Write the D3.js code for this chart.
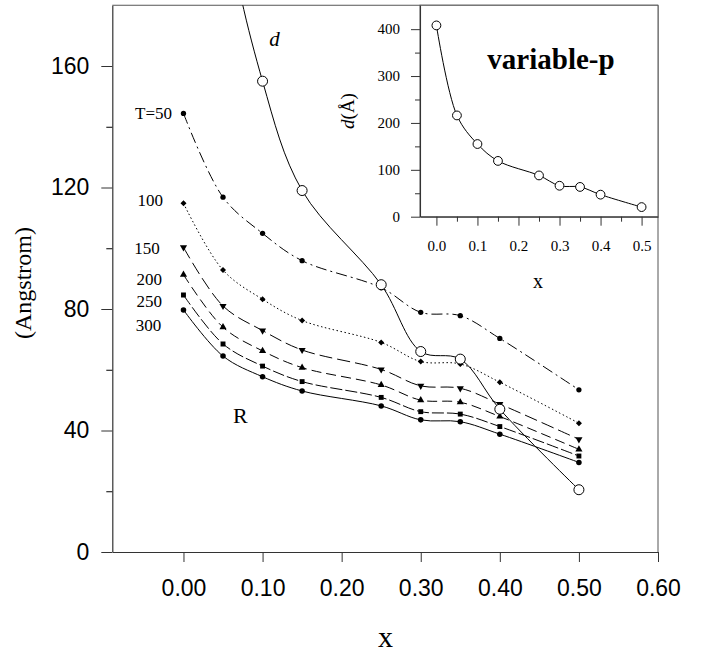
<!DOCTYPE html>
<html>
<head>
<meta charset="utf-8">
<script src="https://cdn.jsdelivr.net/npm/d3@7"></script>
<style>
  body { margin: 0; background: #fff; }
  svg { display: block; }
</style>
</head>
<body>
<div id="chart"></div>
<script>
// composition values, shared by every series
const xValues = [0, 0.05, 0.10, 0.15, 0.25, 0.30, 0.35, 0.40, 0.50];

// d (open circles) - same values in the main plot and in the inset
const dValues = [408, 216, 155, 119, 88, 66, 63.5, 47, 20.5];

// R at each temperature
const rT50  = [144.4, 116.8, 104.9, 95.9, 87.0, 78.9, 77.8, 70.3, 53.4];
const rT100 = [114.8, 92.8, 83.2, 76.2, 69.0, 62.7, 61.9, 55.9, 42.4];
const rT150 = [100.3, 81.0, 72.9, 66.5, 60.1, 54.7, 53.9, 48.7, 37.1];
const rT200 = [91.3, 74.0, 66.2, 60.7, 55.0, 50.0, 49.3, 44.6, 33.8];
const rT250 = [84.6, 68.5, 61.2, 56.1, 50.9, 46.2, 45.4, 41.3, 31.6];
const rT300 = [79.7, 64.5, 57.7, 53.0, 48.1, 43.5, 42.9, 38.8, 29.5];
const tLabels = ["T=50", "100", "150", "200", "250", "300"];

// ticks
const yTicks = [0, 40, 80, 120, 160];
const yMinorTicks = [20, 60, 100, 140];
const xTicks = [0, 0.10, 0.20, 0.30, 0.40, 0.50, 0.60];
const insetYTicks = [0, 100, 200, 300, 400];
const insetYMinor = [50, 150, 250, 350];
const insetXTicks = [0, 0.1, 0.2, 0.3, 0.4, 0.5];
const insetXMinor = [0.05, 0.15, 0.25, 0.35, 0.45];

(function () {
const width = 708, height = 653;
const serif = "'Liberation Serif', 'Times New Roman', serif";
const sans = "'Liberation Sans', Arial, sans-serif";

const svg = d3.select("#chart").append("svg")
  .attr("width", width).attr("height", height);

// ---- main plot ----
const mLeft = 112.3, mRight = 658, mTop = 5.25, mBottom = 552;
const x = d3.scaleLinear().domain([-0.09, 0.60]).range([mLeft, mRight]);
const y = d3.scaleLinear().domain([0, 180]).range([mBottom, mTop]);

svg.append("defs").append("clipPath").attr("id", "plotClip")
  .append("rect").attr("x", mLeft).attr("y", mTop)
  .attr("width", mRight - mLeft).attr("height", mBottom - mTop);

// frame (top and right)
svg.append("path")
  .attr("d", `M${mLeft},${mTop}H${mRight}V${mBottom}`)
  .attr("fill", "none").attr("stroke", "#555").attr("stroke-width", 1);

const yAxis = svg.append("g").attr("transform", `translate(${mLeft},0)`)
  .call(d3.axisLeft(y).tickValues(yTicks).tickSize(11).tickSizeOuter(0).tickPadding(12).tickFormat(d3.format("d")));
svg.append("g").attr("transform", `translate(${mLeft},0)`)
  .call(d3.axisLeft(y).tickValues(yMinorTicks).tickSize(6).tickSizeOuter(0).tickFormat(""))
  .select(".domain").remove();

const xAxis = svg.append("g").attr("transform", `translate(0,${mBottom})`)
  .call(d3.axisBottom(x).tickValues(xTicks).tickSize(10).tickSizeOuter(0).tickPadding(18).tickFormat(d3.format(".2f")));

[yAxis, xAxis].forEach(g => {
  g.selectAll("text").style("font-family", sans).style("font-size", "23px").attr("fill", "#000");
  g.selectAll("line").attr("stroke", "#333");
  g.select(".domain").attr("stroke", "#333").attr("stroke-width", 1.2);
});

svg.append("text")
  .attr("transform", "translate(31,283) rotate(-90)")
  .attr("text-anchor", "middle")
  .style("font-family", serif).style("font-size", "24px")
  .text("(Angstrom)");

svg.append("text")
  .attr("x", 385.5).attr("y", 647)
  .attr("text-anchor", "middle")
  .style("font-family", serif).style("font-size", "30px")
  .text("x");

const series = [
  { values: rT50,  dash: "11,4,2,4", symbol: d3.symbolCircle, size: 22, rot: 0 },
  { values: rT100, dash: "1.5,2.5", symbol: d3.symbolSquare, size: 18, rot: 45 },
  { values: rT150, dash: "13,5", symbol: d3.symbolTriangle, size: 22, rot: 180 },
  { values: rT200, dash: "10,5", symbol: d3.symbolTriangle, size: 22, rot: 0 },
  { values: rT250, dash: "12,3", symbol: d3.symbolSquare, size: 24, rot: 0 },
  { values: rT300, dash: null, symbol: d3.symbolCircle, size: 24, rot: 0 }
];

const line = d3.line()
  .x(d => x(d[0])).y(d => y(d[1]))
  .curve(d3.curveCatmullRom.alpha(0.5));

const plot = svg.append("g").attr("clip-path", "url(#plotClip)");

series.forEach(s => {
  const pts = xValues.map((v, i) => [v, s.values[i]]);
  plot.append("path").datum(pts)
    .attr("d", line)
    .attr("fill", "none").attr("stroke", "#000").attr("stroke-width", 1)
    .attr("stroke-dasharray", s.dash);
  plot.selectAll(null).data(pts).enter().append("path")
    .attr("d", d3.symbol().type(s.symbol).size(s.size))
    .attr("transform", d => `translate(${x(d[0])},${y(d[1])}) rotate(${s.rot})`)
    .attr("fill", "#000");
});

const dPts = xValues.map((v, i) => [v, dValues[i]]);
plot.append("path").datum(dPts)
  .attr("d", line)
  .attr("fill", "none").attr("stroke", "#000").attr("stroke-width", 1);
plot.selectAll(null).data(dPts).enter().append("circle")
  .attr("cx", d => x(d[0])).attr("cy", d => y(d[1])).attr("r", 5)
  .attr("fill", "#fff").attr("stroke", "#000").attr("stroke-width", 1);

// temperature labels, placed left of each curve's first point
const labelAnchors = [[-0.0145, 142.7], [-0.026, 113.9], [-0.030, 98.1], [-0.027, 87.9], [-0.027, 80.8], [-0.028, 72.6]];
tLabels.forEach((t, i) => {
  svg.append("text")
    .attr("x", x(labelAnchors[i][0])).attr("y", y(labelAnchors[i][1]))
    .attr("text-anchor", "end")
    .style("font-family", serif).style("font-size", "17px")
    .text(t);
});

svg.append("text")
  .attr("x", x(0.115)).attr("y", y(166.6))
  .attr("text-anchor", "middle")
  .style("font-family", serif).style("font-size", "21px").style("font-style", "italic")
  .text("d");

svg.append("text")
  .attr("x", x(0.072)).attr("y", y(42.5))
  .attr("text-anchor", "middle")
  .style("font-family", serif).style("font-size", "22px")
  .text("R");

// ---- inset ----
const iLeft = 420, iRight = 658, iTop = 5.25, iBottom = 216.7;
const ix = d3.scaleLinear().domain([-0.04, 0.54]).range([iLeft, iRight]);
const iy = d3.scaleLinear().domain([0, 451]).range([iBottom, iTop]);

const inset = svg.append("g");
inset.append("rect")
  .attr("x", iLeft).attr("y", iTop).attr("width", iRight - iLeft).attr("height", iBottom - iTop)
  .attr("fill", "#fff").attr("stroke", "#555").attr("stroke-width", 1);

const iyAxis = inset.append("g").attr("transform", `translate(${iLeft},0)`)
  .call(d3.axisLeft(iy).tickValues(insetYTicks).tickSize(9).tickSizeOuter(0).tickPadding(11).tickFormat(d3.format("d")));
inset.append("g").attr("transform", `translate(${iLeft},0)`)
  .call(d3.axisLeft(iy).tickValues(insetYMinor).tickSize(5).tickSizeOuter(0).tickFormat(""))
  .select(".domain").remove();
const ixAxis = inset.append("g").attr("transform", `translate(0,${iBottom})`)
  .call(d3.axisBottom(ix).tickValues(insetXTicks).tickSize(9).tickSizeOuter(0).tickPadding(15).tickFormat(d3.format(".1f")));
inset.append("g").attr("transform", `translate(0,${iBottom})`)
  .call(d3.axisBottom(ix).tickValues(insetXMinor).tickSize(5).tickSizeOuter(0).tickFormat(""))
  .select(".domain").remove();

[iyAxis, ixAxis].forEach(g => {
  g.selectAll("text").style("font-family", serif).style("font-size", "15px").attr("fill", "#000");
  g.selectAll("line").attr("stroke", "#333");
  g.select(".domain").attr("stroke", "#333").attr("stroke-width", 1.1);
});
inset.selectAll(".tick line").attr("stroke", "#333");

const insetLine = d3.line()
  .x(d => ix(d[0])).y(d => iy(d[1]))
  .curve(d3.curveCatmullRom.alpha(0.5));
inset.append("path").datum(dPts)
  .attr("d", insetLine)
  .attr("fill", "none").attr("stroke", "#000").attr("stroke-width", 1);
inset.selectAll(null).data(dPts).enter().append("circle")
  .attr("cx", d => ix(d[0])).attr("cy", d => iy(d[1])).attr("r", 4.4)
  .attr("fill", "#fff").attr("stroke", "#000").attr("stroke-width", 1);

inset.append("text")
  .attr("x", 551).attr("y", 69)
  .attr("text-anchor", "middle")
  .style("font-family", serif).style("font-size", "29px").style("font-weight", "bold")
  .text("variable-p");

inset.append("text")
  .attr("x", 538).attr("y", 288)
  .attr("text-anchor", "middle")
  .style("font-family", serif).style("font-size", "20px")
  .text("x");

const dLabel = inset.append("text")
  .attr("transform", "translate(354,111) rotate(-90)")
  .attr("text-anchor", "middle")
  .style("font-family", serif).style("font-size", "19px");
dLabel.append("tspan").style("font-style", "italic").text("d");
dLabel.append("tspan").text("(Å)");
})();
</script>
</body>
</html>
